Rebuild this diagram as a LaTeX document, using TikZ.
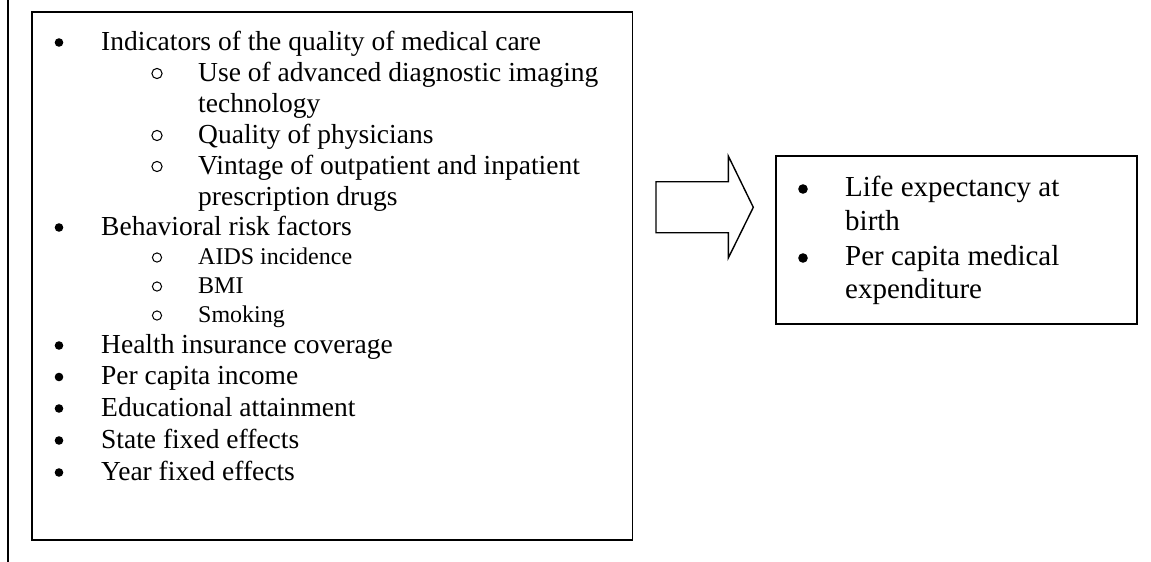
\documentclass[tikz,border=0pt]{standalone}
\usepackage{fontspec}
\setmainfont{Liberation Serif}
\newcommand{\mainfnt}{\fontsize{27.5}{31}\selectfont}
\newcommand{\smallfnt}{\fontsize{24}{28}\selectfont}
\newcommand{\rightfnt}{\fontsize{29}{34}\selectfont}
\begin{document}
\begin{tikzpicture}[x=1pt,y=-1pt,
  frame/.style={draw, line width=1.6pt, inner sep=0pt, fill=none},
  txt/.style={anchor=base west, inner sep=0pt, font=\mainfnt},
  stxt/.style={anchor=base west, inner sep=0pt, font=\smallfnt},
  rtxt/.style={anchor=base west, inner sep=0pt, font=\rightfnt},
  dotbul/.style={circle, fill=black, inner sep=0pt, minimum size=8.6pt},
  rdotbul/.style={circle, fill=black, inner sep=0pt, minimum size=9.6pt},
  obul/.style={circle, draw=black, line width=1.05pt, inner sep=0pt, minimum size=10.2pt},
  sobul/.style={circle, draw=black, line width=1pt, inner sep=0pt, minimum size=9.2pt},
  blockarrow/.style={draw, line width=1.4pt, line join=miter}
]
\useasboundingbox (0,0) rectangle (1151,562);

% left margin rule
\coordinate (vtop) at (8,0);
\coordinate (vbot) at (8,562);
\draw[line width=1.6pt] (vtop) -- (vbot);

% boxes
\node[frame, minimum width=600.7pt, minimum height=528pt] (L) at (332.3,276) {};
\node[frame, minimum width=361pt, minimum height=168pt] (R) at (956.5,240) {};

% block arrow
\coordinate (a1) at (656,181.7);
\coordinate (a2) at (728.3,181.7);
\coordinate (a3) at (728.3,156);
\coordinate (a4) at (753.3,207.3);
\coordinate (a5) at (728.3,258);
\coordinate (a6) at (728.3,232.7);
\coordinate (a7) at (656,232.7);
\draw[blockarrow] (a1) -- (a2) -- (a3) -- (a4) -- (a5) -- (a6) -- (a7) -- cycle;

% left list
\node[dotbul] (b1) at (59,42.5) {};
\node[txt] (t1) at (101,50) {Indicators of the quality of medical care};
\node[obul] (s1) at (157,73.5) {};
\node[txt] (u1) at (198,81) {Use of advanced diagnostic imaging};
\node[txt] (u1b) at (198,112) {technology};
\node[obul] (s2) at (157,135.5) {};
\node[txt] (u2) at (198,143) {Quality of physicians};
\node[obul] (s3) at (157,166.5) {};
\node[txt] (u3) at (198,174) {Vintage of outpatient and inpatient};
\node[txt] (u3b) at (198,205) {prescription drugs};

\node[dotbul] (b2) at (59,227.5) {};
\node[txt] (t2) at (101,235) {Behavioral risk factors};
\node[sobul] (s4) at (157,257.5) {};
\node[stxt] (u4) at (198,264) {AIDS incidence};
\node[sobul] (s5) at (157,286.5) {};
\node[stxt] (u5) at (198,293) {BMI};
\node[sobul] (s6) at (157,315.5) {};
\node[stxt] (u6) at (198,322) {Smoking};

\node[dotbul] (b3) at (59,345.5) {};
\node[txt] (t3) at (101,353) {Health insurance coverage};
\node[dotbul] (b4) at (59,377) {};
\node[txt] (t4) at (101,384.5) {Per capita income};
\node[dotbul] (b5) at (59,408.5) {};
\node[txt] (t5) at (101,416) {Educational attainment};
\node[dotbul] (b6) at (59,440.5) {};
\node[txt] (t6) at (101,448) {State fixed effects};
\node[dotbul] (b7) at (59,472.5) {};
\node[txt] (t7) at (101,480) {Year fixed effects};

% right list
\node[rdotbul] (rb1) at (803,189) {};
\node[rtxt] (r1) at (845,196) {Life expectancy at};
\node[rtxt] (r1b) at (845,230) {birth};
\node[rdotbul] (rb2) at (803,258) {};
\node[rtxt] (r2) at (845,265) {Per capita medical};
\node[rtxt] (r2b) at (845,298) {expenditure};
\end{tikzpicture}
\end{document}
